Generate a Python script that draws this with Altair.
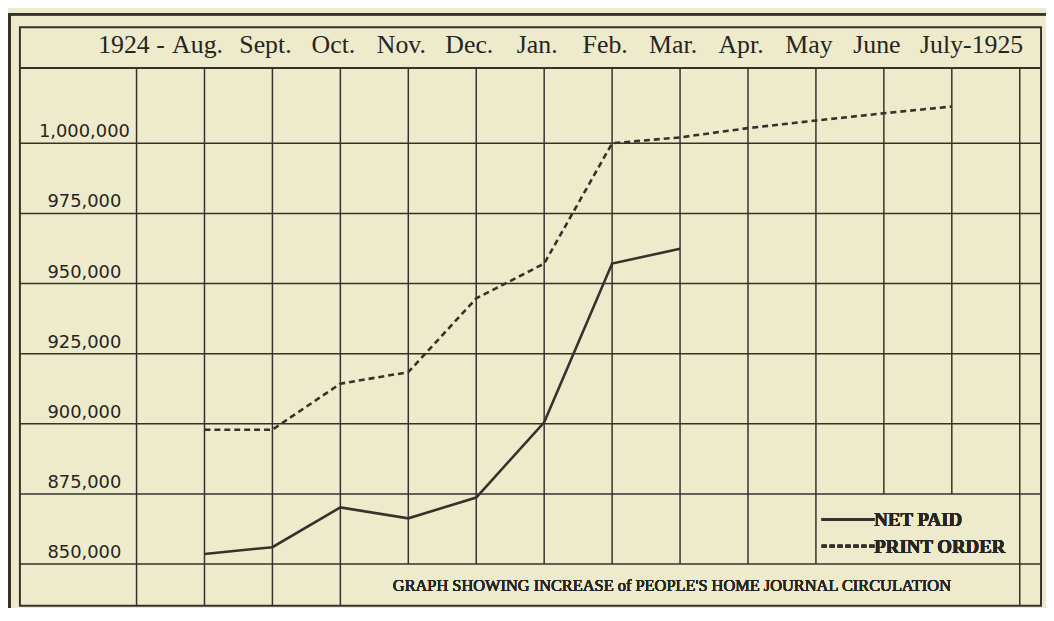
import altair as alt
import pandas as pd

# ---------------- data ----------------
MONTHS = ["Aug.", "Sept.", "Oct.", "Nov.", "Dec.", "Jan.", "Feb.", "Mar.",
          "Apr.", "May", "June", "July-1925"]
YEAR_START = "1924 -"
NET_PAID = [853600, 856000, 870200, 866300, 873700, 900500, 957100, 962400]
PRINT_ORDER = [897900, 897900, 914300, 918400, 944700, 957100, 1000000,
               1002100, 1005400, 1008100, 1010700, 1013100]
Y_TICKS = [850000, 875000, 900000, 925000, 950000, 975000, 1000000]
CAPTION = "GRAPH SHOWING INCREASE of PEOPLE'S HOME JOURNAL CIRCULATION"
LEGEND = ["NET PAID", "PRINT ORDER"]

# ---------------- layout ----------------
W, H = 1029, 583
BG = "#EDEBCB"
INK = "#34332b"
TXT = "#26251f"

PX_PER_UNIT = 424 / 150000.0
Y1 = 1000000 + 117 / PX_PER_UNIT
Y0 = 850000 - 42 / PX_PER_UNIT
HEADER = Y1 - 41 / PX_PER_UNIT
STEP = 890 / 13.0
X0 = -186 / STEP
X1 = (W - 186) / STEP

xs = alt.Scale(domain=[X0, X1], nice=False, zero=False)
ys = alt.Scale(domain=[Y0, Y1], nice=False, zero=False)

# vertical grid lines: index -1 .. 12, with their lower end
col_idx = list(range(-1, 13))
col_bottom = []
for c in col_idx:
    if c in (-1, 0, 1, 2, 12):
        col_bottom.append(Y0)
    elif c in (10, 11):
        col_bottom.append(875000)
    else:
        col_bottom.append(850000)
vgrid_df = pd.DataFrame({"i": col_idx, "top": [HEADER] * len(col_idx), "bottom": col_bottom})
hgrid_df = pd.DataFrame({"v": Y_TICKS})
month_df = pd.DataFrame({"i": list(range(len(MONTHS) - 1)), "t": MONTHS[:-1]})
last_df = pd.DataFrame({"i": [len(MONTHS) - 1], "t": [MONTHS[-1]]})
year_df = pd.DataFrame({"i": [0], "t": [YEAR_START]})
net_df = pd.DataFrame({"i": list(range(len(NET_PAID))), "v": NET_PAID})
print_df = pd.DataFrame({"i": list(range(len(PRINT_ORDER))), "v": PRINT_ORDER})

X = lambda f: alt.X(f, scale=xs, axis=None)
Y = lambda f: alt.Y(f, scale=ys, axis=None)

vgrid = alt.Chart(vgrid_df).mark_rule(color=INK, strokeWidth=1.5).encode(
    x=X("i:Q"), y=Y("top:Q"), y2="bottom:Q")
hgrid = alt.Chart(hgrid_df).mark_rule(color=INK, strokeWidth=1.5).encode(
    y=Y("v:Q"), x=alt.value(0), x2=alt.value(W))
header_line = alt.Chart(hgrid_df).mark_rule(color=INK, strokeWidth=1.8).encode(
    y=alt.value(41), x=alt.value(0), x2=alt.value(W))

# outer frame (outside the plot area)
outer_left = alt.Chart(hgrid_df).mark_rule(color=INK, strokeWidth=3).encode(
    x=alt.value(-10.5), y=alt.value(-13), y2=alt.value(H + 2))
outer_top = alt.Chart(hgrid_df).mark_rule(color=INK, strokeWidth=2).encode(
    y=alt.value(-13), x=alt.value(-12), x2=alt.value(W + 6))

ylabels = alt.Chart(hgrid_df).mark_text(
    font="DejaVu Sans", fontSize=18, color=TXT, align="center",
    baseline="alphabetic", dy=-6).encode(
    y=Y("v:Q"), x=alt.value(65), text=alt.Text("v:Q", format=","))

month_text = alt.Chart(month_df).mark_text(
    font="Liberation Serif", fontSize=26, color=TXT, align="center",
    baseline="alphabetic", dx=-7).encode(
    x=X("i:Q"), y=alt.value(26), text="t:N")
last_text = alt.Chart(last_df).mark_text(
    font="Liberation Serif", fontSize=26, color=TXT, align="left",
    baseline="alphabetic", dx=-32).encode(
    x=X("i:Q"), y=alt.value(26), text="t:N")
year_text = alt.Chart(year_df).mark_text(
    font="Liberation Serif", fontSize=26, color=TXT, align="right",
    baseline="alphabetic", dx=-40).encode(
    x=X("i:Q"), y=alt.value(26), text="t:N")

net_line = alt.Chart(net_df).mark_line(color=INK, strokeWidth=2.6).encode(
    x=X("i:Q"), y=Y("v:Q"))
print_line = alt.Chart(print_df).mark_line(
    color=INK, strokeWidth=2.6, strokeDash=[6, 4]).encode(
    x=X("i:Q"), y=Y("v:Q"))

leg_solid = alt.Chart(hgrid_df).mark_rule(color=INK, strokeWidth=2.6).encode(
    x=alt.value(808), x2=alt.value(861), y=alt.value(496))
leg_dash = alt.Chart(hgrid_df).mark_rule(color=INK, strokeWidth=2.6, strokeDash=[5, 3]).encode(
    x=alt.value(808), x2=alt.value(861), y=alt.value(523))
leg_t1 = alt.Chart(hgrid_df).mark_text(
    font="Liberation Serif", fontSize=19, fontWeight="bold", color=TXT,
    align="left", baseline="middle", text=LEGEND[0]).encode(
    x=alt.value(861), y=alt.value(497))
leg_t2 = alt.Chart(hgrid_df).mark_text(
    font="Liberation Serif", fontSize=19, fontWeight="bold", color=TXT,
    align="left", baseline="middle", text=LEGEND[1]).encode(
    x=alt.value(861), y=alt.value(524))

caption = alt.Chart(hgrid_df).mark_text(
    font="Liberation Serif", fontSize=16.5, color=TXT,
    align="center", baseline="middle", text=CAPTION).encode(
    x=alt.value(657), y=alt.value(563))

chart = alt.layer(
    outer_left, outer_top, vgrid, hgrid, header_line, ylabels,
    month_text, last_text, year_text, print_line, net_line,
    leg_solid, leg_dash, leg_t1, leg_t2, caption,
).properties(
    width=W, height=H,
    padding={"left": 12, "top": 17, "right": 5, "bottom": 0},
    autosize=alt.AutoSizeParams(type="none"),
    background=BG,
).configure_view(stroke=INK, strokeWidth=2)

chart.save("out.html", embed_options={"renderer": "svg", "actions": False})
